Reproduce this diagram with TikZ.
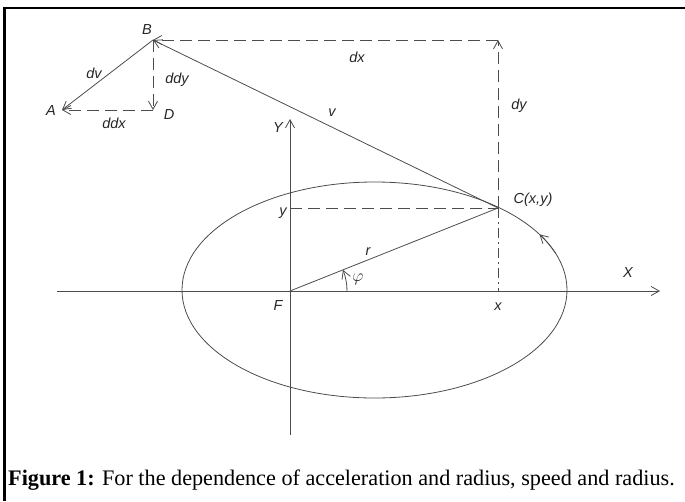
\documentclass[tikz,border=0pt]{standalone}
\usepackage{fontspec}
\setmainfont{Liberation Serif}
\newfontfamily\lblfont{Liberation Sans}
\usetikzlibrary{arrows.meta}

\tikzset{
  vec/.style={draw=black!70, line width=0.8pt},
  dashvec/.style={vec, dash pattern=on 12pt off 6pt},
  lbl/.style={font=\lblfont\itshape\fontsize{14.5}{14.5}\selectfont, text=black!85, inner sep=0pt}
}

\begin{document}
\begin{tikzpicture}[x=1pt, y=-1pt, >={Straight Barb[length=8pt,width=9pt]}]
            \useasboundingbox (0,0) rectangle (685,501);
            % frame
            \draw[line width=2.5pt] (4.5,501) -- (4.5,8) -- (685,8);

            % points
            \coordinate (B) at (153,40);
            \coordinate (A) at (62,110);
            \coordinate (D) at (153,110);
            \coordinate (C) at (498,208);
            \coordinate (K) at (498,40);
            \coordinate (F) at (290,291);
            \coordinate (Cy) at (290,208);
            \coordinate (Cx) at (498,291);
            \coordinate (O) at (374.5,290);
            \coordinate (Xl) at (57,291);
            \coordinate (Xr) at (660,291);
            \coordinate (Yb) at (290,435);
            \coordinate (Yt) at (290,119);

            % axes and orbit
            \draw[vec, ->] (Xl) -- (Xr);
            \draw[vec, ->] (Yb) -- (Yt);
            \draw[vec] (O) ellipse [x radius=192.5, y radius=108];
            \draw[vec, ->] (O) ++(-20:192.5 and 108) arc [start angle=-20, end angle=-31, x radius=192.5, y radius=108];

            % velocity and components
            \draw[vec, ->] (C) -- (B);
            \draw[dashvec, ->] (C) -- (K);
            \draw[dashvec, ->] (K) -- (B);
            \draw[vec, ->] (B) -- (A);
            \draw[dashvec, ->] (B) -- (D);
            \draw[dashvec, ->] (D) -- (A);

            % radius, angle, projections
            \draw[vec] (F) -- (C);
            \draw[dashvec] (Cy) -- (C);
            \draw[vec, dash pattern=on 10pt off 4pt on 2pt off 4pt] (C) -- (Cx);
            \draw[vec, ->] (F) ++(0:57) arc [start angle=0, end angle=-21.8, radius=57];

            % labels
            \node[lbl] (lB) at (147,30) {B};
            \node[lbl] (lA) at (51,111) {A};
            \node[lbl] (lD) at (169,115) {D};
            \node[lbl] (ldv) at (94,73) {dv};
            \node[lbl] (lddy) at (177,80) {ddy};
            \node[lbl] (lddx) at (114,123) {ddx};
            \node[lbl] (ldx) at (357,57) {dx};
            \node[lbl] (ldy) at (519,106) {dy};
            \node[lbl] (lv) at (332,113) {v};
            \node[lbl] (lY) at (278,128) {Y};
            \node[lbl] (lX) at (628,273) {X};
            \node[lbl] (lC) at (533,200) {C(x,y)};
            \node[lbl] (ly) at (283,213) {y};
            \node[lbl] (lx) at (498,307) {x};
            \node[lbl] (lF) at (278,306) {F};
            \node[lbl] (lr) at (368,252) {r};
            \node[lbl, font=\fontsize{17}{17}\selectfont] (lphi) at (358,279) {$\varphi$};

            % caption
            \node[anchor=base west, inner sep=0pt, font=\fontsize{22.2}{22.2}\selectfont] (cap) at (8,485)
              {\textbf{Figure 1:} For the dependence of acceleration and radius, speed and radius.};
        \end{tikzpicture}
\end{document}
